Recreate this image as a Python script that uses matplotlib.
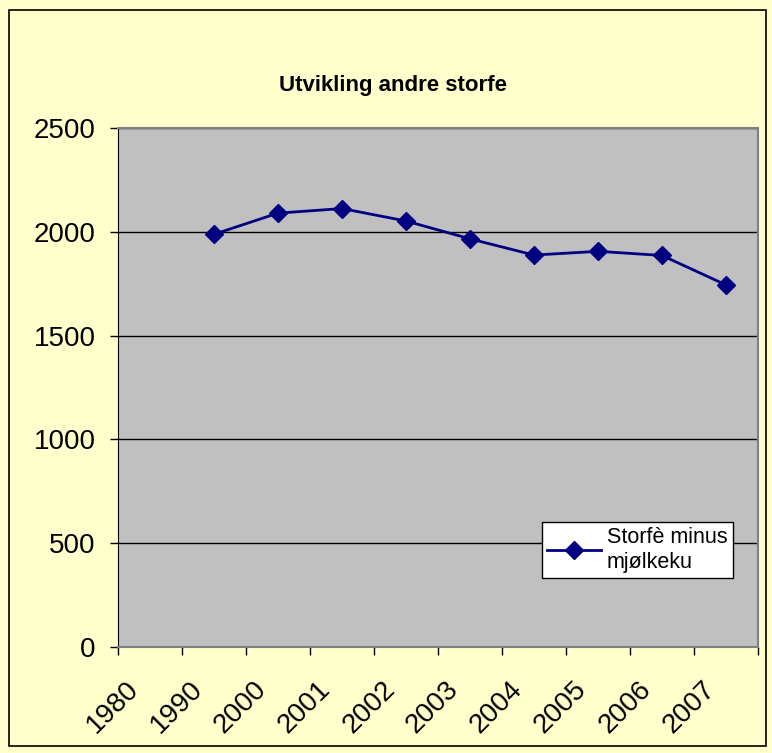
import matplotlib.pyplot as plt
from matplotlib.patches import Rectangle

plt.rcParams['font.family'] = ['Liberation Sans', 'DejaVu Sans']

years = ['1980', '1990', '2000', '2001', '2002', '2003', '2004', '2005', '2006', '2007']
storfe = [None, 1988, 2090, 2112, 2052, 1966, 1888, 1906, 1886, 1744]

fig = plt.figure(figsize=(7.72, 7.53), dpi=100, facecolor='#FFFFCC')
W, H = 772, 753
ax = fig.add_axes([118 / W, 1 - 647 / H, 640 / W, 519 / H])
ax.set_facecolor('#C0C0C0')

# ramme rundt hele diagrammet
fig.patches.append(Rectangle((9 / W, 1 - 746 / H), 757 / W, 736 / H, transform=fig.transFigure,
                             fill=False, edgecolor='black', linewidth=1.2))

xs = [i + 0.5 for i, v in enumerate(storfe) if v is not None]
ys = [v for v in storfe if v is not None]
ax.plot(xs, ys, color='#000080', linewidth=2, marker='D', markersize=9,
        markerfacecolor='#000080', markeredgecolor='#000080', label='Storfè minus\nmjølkeku')

ax.set_xlim(0, len(years))
ax.set_ylim(0, 2500)
ax.set_yticks(range(0, 2501, 500))
ax.tick_params(axis='y', labelsize=20, length=6, direction='out', width=1, pad=10)
ax.set_xticks(range(0, len(years) + 1))
ax.set_xticklabels([])
ax.tick_params(axis='x', length=6, direction='out', width=1)
for i, lab in enumerate(years):
    ax.text(i + 0.12, -140, lab, rotation=45, ha='right', va='top', rotation_mode='anchor',
            fontsize=20, clip_on=False)

ax.grid(axis='y', color='black', linewidth=1)
ax.set_axisbelow(True)
for side in ['top', 'right']:
    ax.spines[side].set_color('#808080')
    ax.spines[side].set_linewidth(1.5)
ax.spines['left'].set_color('black')
ax.spines['bottom'].set_color('#808080')
ax.spines['bottom'].set_linewidth(1.5)

fig.text(393 / W, 1 - 85 / H, 'Utvikling andre storfe', ha='center', va='center',
         fontsize=16, fontweight='bold')

leg = ax.legend(loc='upper left', bbox_to_anchor=((542 - 118) / 640, 1 - (522 - 128) / 519),
                fontsize=15.5, frameon=True, fancybox=False, framealpha=1, borderpad=0.25,
                handlelength=2.5, handletextpad=0.25, labelspacing=0.15, borderaxespad=0)
leg.get_frame().set_edgecolor('black')
leg.get_frame().set_facecolor('white')
leg.get_frame().set_linewidth(1)

fig.savefig('out.png', dpi=100, facecolor=fig.get_facecolor())
